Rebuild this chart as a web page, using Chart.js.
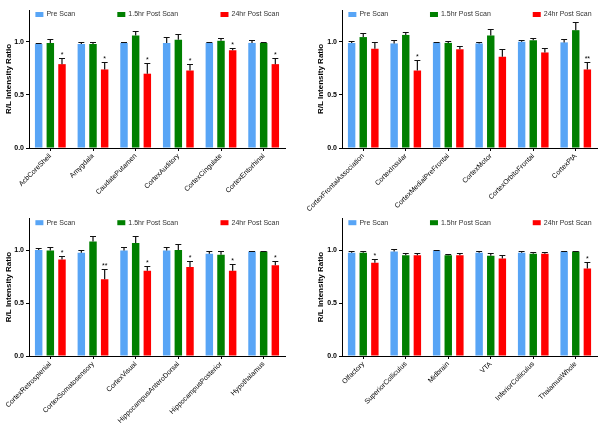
<!DOCTYPE html>
<html>
<head>
<meta charset="utf-8">
<script src="https://cdn.jsdelivr.net/npm/chart.js@4.4.1/dist/chart.umd.min.js"></script>
<style>
  html, body { margin: 0; padding: 0; background: #fff; }
  #wrap { position: relative; width: 600px; height: 425px; }
  .cell { position: absolute; width: 300px; }
</style>
</head>
<body>
<div id="wrap">
  <div class="cell" style="left:0;top:0;height:212px"><canvas id="chartA"></canvas></div>
  <div class="cell" style="left:300px;top:0;height:212px"><canvas id="chartB"></canvas></div>
  <div class="cell" style="left:0;top:212px;height:213px"><canvas id="chartC"></canvas></div>
  <div class="cell" style="left:300px;top:212px;height:213px"><canvas id="chartD"></canvas></div>
</div>
<script>
// series names and colours
var seriesNames = ['Pre Scan', '1.5hr Post Scan', '24hr Post Scan'];
var seriesColors = ['#58a5f6', '#008000', '#ff0000'];
var yTicks = [0, 0.5, 1.0];

// panel A (top left)
var labelsA = ['AcbCoreShell', 'Amygdala', 'CaudatePutamen', 'CortexAuditory', 'CortexCingulate', 'CortexEntorhinal'];
var preA = [0.98, 0.98, 0.99, 0.99, 0.99, 0.99];
var preErrA = [0.01, 0.02, 0.01, 0.06, 0.01, 0.03];
var midA = [0.99, 0.98, 1.06, 1.02, 1.01, 0.99];
var midErrA = [0.04, 0.02, 0.04, 0.05, 0.03, 0.01];
var lateA = [0.79, 0.74, 0.70, 0.73, 0.92, 0.79];
var lateErrA = [0.06, 0.07, 0.10, 0.06, 0.025, 0.06];
var starsA = ['*', '*', '*', '*', '*', '*'];

// panel B (top right)
var labelsB = ['CortexFrontalAssociation', 'CortexInsular', 'CortexMedialPreFrontal', 'CortexMotor', 'CortexOrbitoFrontal', 'CortexPtA'];
var preB = [0.99, 0.985, 0.995, 0.985, 1.0, 0.995];
var preErrB = [0.015, 0.035, 0.005, 0.015, 0.02, 0.035];
var midB = [1.045, 1.065, 0.99, 1.06, 1.015, 1.11];
var midErrB = [0.035, 0.025, 0.02, 0.06, 0.02, 0.08];
var lateB = [0.935, 0.73, 0.93, 0.86, 0.90, 0.74];
var lateErrB = [0.06, 0.10, 0.03, 0.07, 0.045, 0.07];
var starsB = ['', '*', '', '', '', '**'];

// panel C (bottom left)
var labelsC = ['CortexRetrosplenial', 'CortexSomatosensory', 'CortexVisual', 'HippocampusAnteroDorsal', 'HippocampusPosterior', 'Hypothalamus'];
var preC = [1.0, 0.975, 0.995, 0.995, 0.965, 0.985];
var preErrC = [0.015, 0.025, 0.03, 0.03, 0.025, 0.01];
var midC = [0.995, 1.08, 1.065, 1.0, 0.955, 0.985];
var midErrC = [0.03, 0.055, 0.065, 0.055, 0.04, 0.005];
var lateC = [0.91, 0.725, 0.805, 0.84, 0.805, 0.855];
var lateErrC = [0.03, 0.095, 0.045, 0.055, 0.065, 0.04];
var starsC = ['*', '**', '*', '*', '*', '*'];

// panel D (bottom right)
var labelsD = ['Olfactory', 'SuperiorColliculus', 'Midbrain', 'VTA', 'InferiorColliculus', 'ThalamusWhole'];
var preD = [0.975, 0.985, 0.995, 0.975, 0.975, 0.985];
var preErrD = [0.02, 0.025, 0.005, 0.015, 0.02, 0.005];
var midD = [0.975, 0.95, 0.95, 0.945, 0.965, 0.985];
var midErrD = [0.02, 0.02, 0.015, 0.025, 0.015, 0.01];
var lateD = [0.88, 0.95, 0.95, 0.92, 0.965, 0.825];
var lateErrD = [0.035, 0.02, 0.02, 0.035, 0.015, 0.065];
var starsD = ['*', '', '', '', '', '*'];

var FONT = '"Liberation Sans", Arial, sans-serif';

// error bars (upper half only) and significance stars
var errorBars = {
    id: 'errorBars',
    afterDatasetsDraw: function(chart) {
        var ctx = chart.ctx;
        var y = chart.scales.y;
        ctx.save();
        chart.data.datasets.forEach(function(ds, i) {
            var meta = chart.getDatasetMeta(i);
            meta.data.forEach(function(bar, j) {
                var top = Math.round(y.getPixelForValue(ds.data[j] + ds.errors[j])) + 0.5;
                var cap = bar.width * 0.4;
                ctx.strokeStyle = '#111';
                ctx.lineWidth = 1.2;
                ctx.beginPath();
                ctx.moveTo(bar.x, bar.y);
                ctx.lineTo(bar.x, top);
                ctx.moveTo(bar.x - cap, top);
                ctx.lineTo(bar.x + cap, top);
                ctx.stroke();
                if (ds.stars && ds.stars[j]) {
                    ctx.fillStyle = '#000';
                    ctx.font = '7px ' + FONT;
                    ctx.textAlign = 'center';
                    ctx.textBaseline = 'alphabetic';
                    ctx.fillText(ds.stars[j], bar.x, top - 1.5);
                }
            });
        });
        ctx.restore();
    }
};

// legend drawn inside the plot area, spread over its width
var insideLegend = {
    id: 'insideLegend',
    afterDraw: function(chart) {
        var ctx = chart.ctx;
        var area = chart.chartArea;
        var spots = [0.025, 0.345, 0.748];
        ctx.save();
        ctx.font = '7px ' + FONT;
        ctx.textBaseline = 'middle';
        ctx.textAlign = 'left';
        chart.data.datasets.forEach(function(ds, i) {
            var x = area.left + spots[i] * (area.right - area.left);
            var cy = area.top + 4.5;
            ctx.fillStyle = ds.backgroundColor;
            ctx.fillRect(x, cy - 2.5, 8, 5);
            ctx.fillStyle = '#333';
            ctx.fillText(ds.label, x + 11, cy);
        });
        ctx.restore();
    }
};

function makeChart(id, labels, series, errors, stars, leftPad, yWidth, topPad, xHeight, rightPad) {
    var datasets = series.map(function(values, i) {
        return {
            label: seriesNames[i],
            data: values,
            errors: errors[i],
            stars: i === 2 ? stars : null,
            backgroundColor: seriesColors[i],
            categoryPercentage: 0.82,
            barPercentage: 0.64
        };
    });
    return new Chart(document.getElementById(id), {
        type: 'bar',
        data: { labels: labels, datasets: datasets },
        plugins: [errorBars, insideLegend],
        options: {
            responsive: true,
            maintainAspectRatio: false,
            animation: false,
            layout: { padding: { top: topPad, right: rightPad, left: leftPad, bottom: 0 } },
            plugins: { legend: { display: false }, tooltip: { enabled: false } },
            scales: {
                x: {
                    border: { color: '#000', width: 1 },
                    grid: { display: true, drawOnChartArea: false, offset: false, tickLength: 3, color: '#000' },
                    ticks: { color: '#000', font: { family: FONT, size: 7 }, maxRotation: 45, minRotation: 45, padding: 1 },
                    afterFit: function(s) { s.height = xHeight; }
                },
                y: {
                    min: 0,
                    max: 1.3,
                    border: { color: '#000', width: 1 },
                    grid: { display: true, drawOnChartArea: false, tickLength: 3, color: '#000' },
                    ticks: { color: '#000', font: { family: FONT, size: 7, weight: 'bold' }, padding: 2,
                             callback: function(v) { return v.toFixed(1); } },
                    afterBuildTicks: function(s) { s.ticks = yTicks.map(function(v) { return { value: v }; }); },
                    title: { display: true, text: 'R/L Intensity Ratio', color: '#000', padding: 2,
                             font: { family: FONT, size: 8, weight: 'bold' } },
                    afterFit: function(s) { s.width = yWidth; }
                }
            }
        }
    });
}

makeChart('chartA', labelsA, [preA, midA, lateA], [preErrA, midErrA, lateErrA], starsA, 2, 27, 10, 64, 15);
makeChart('chartB', labelsB, [preB, midB, lateB], [preErrB, midErrB, lateErrB], starsB, 14, 28, 10, 64, 3);
makeChart('chartC', labelsC, [preC, midC, lateC], [preErrC, midErrC, lateErrC], starsC, 2, 27, 6, 69, 15);
makeChart('chartD', labelsD, [preD, midD, lateD], [preErrD, midErrD, lateErrD], starsD, 14, 28, 6, 69, 3);
</script>
</body>
</html>
